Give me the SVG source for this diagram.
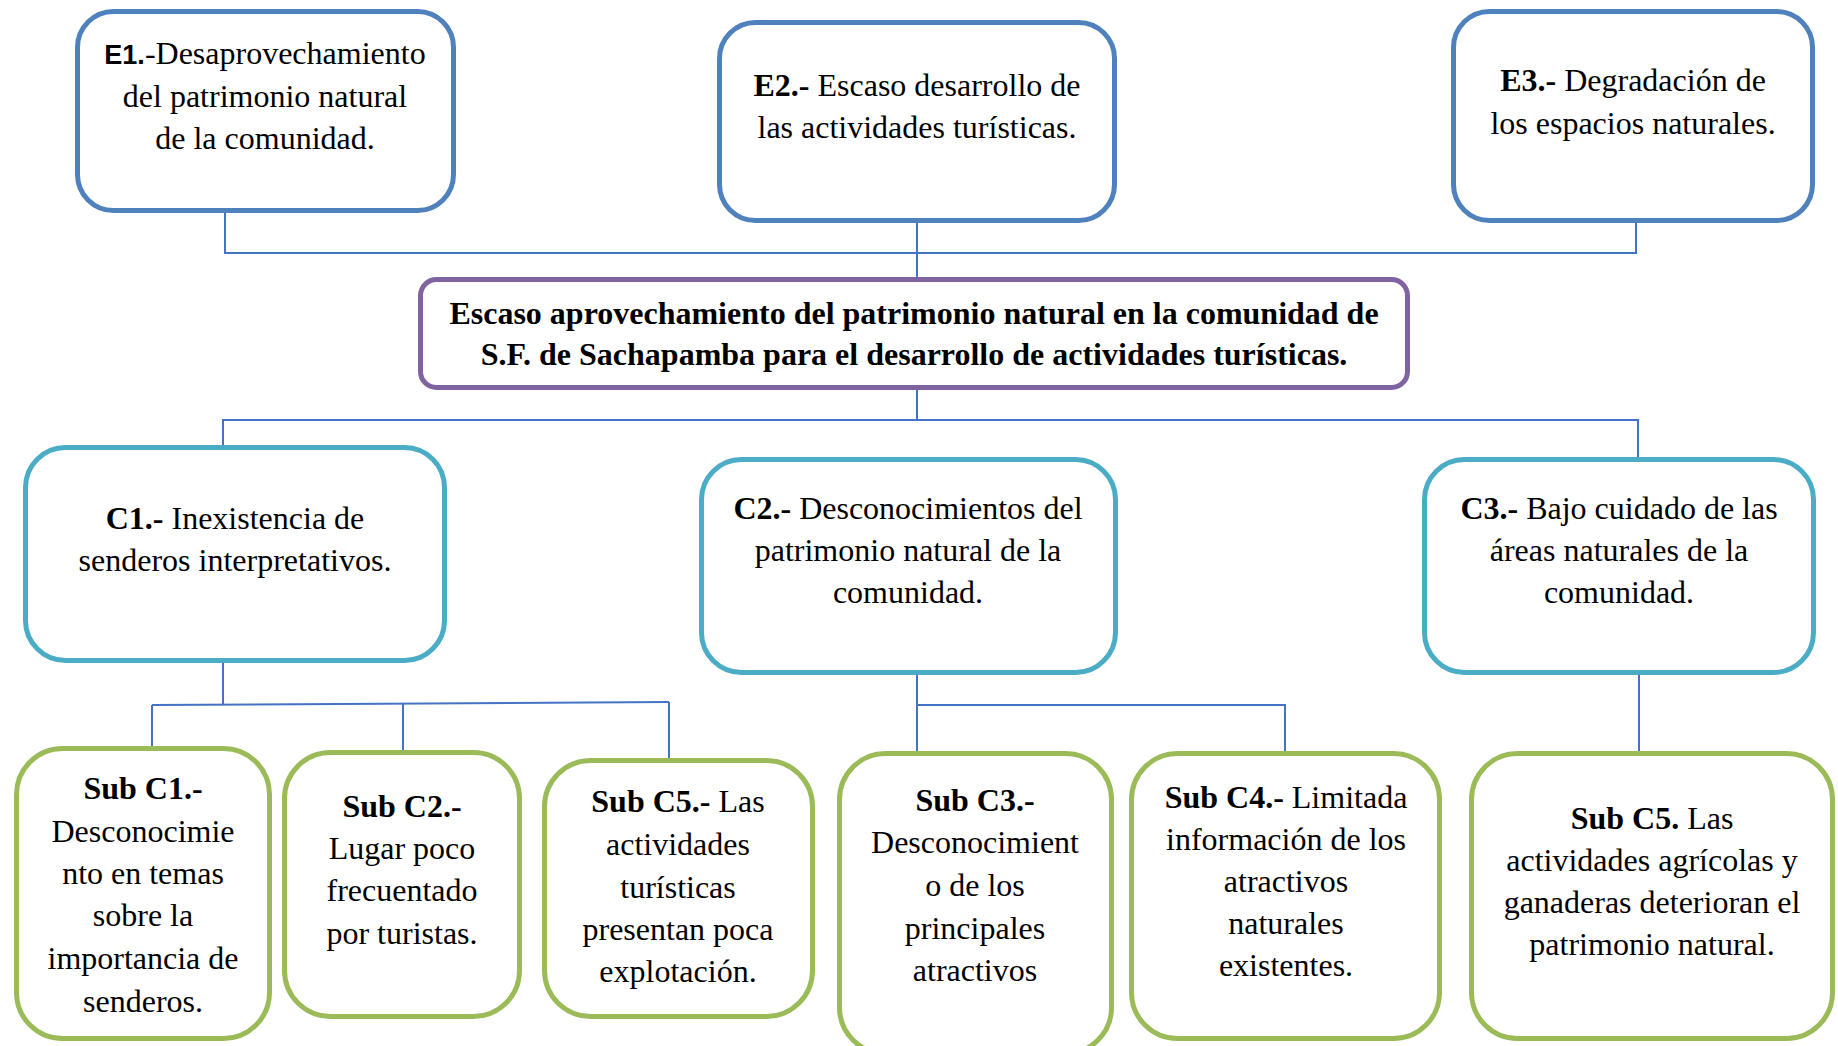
<svg xmlns="http://www.w3.org/2000/svg" width="1838" height="1046" viewBox="0 0 1838 1046">
<style>
.box{fill:#fff;stroke-width:5}
.e{stroke:#4F81BD}
.p{stroke:#8064A2}
.c{stroke:#4BACC6}
.s{stroke:#9BBB59}
.t{font-family:"Liberation Serif","Times New Roman",serif;font-size:32px;fill:#000;text-anchor:middle}
.b{font-weight:bold}
.sans{font-family:"Liberation Sans",Arial,sans-serif;font-size:27px;font-weight:bold}
.conn line{stroke:#4472C4;stroke-width:2;fill:none}
</style>
<rect width="1838" height="1046" fill="#fff"/>
<g class="conn" id="connectors">
<line x1="225" y1="213" x2="225" y2="253"/>
<line x1="224" y1="253" x2="1637" y2="253"/>
<line x1="917" y1="223" x2="917" y2="280"/>
<line x1="1636" y1="223" x2="1636" y2="253"/>
<line x1="917" y1="390" x2="917" y2="420"/>
<line x1="222" y1="420" x2="1639" y2="420"/>
<line x1="223" y1="420" x2="223" y2="457"/>
<line x1="1638" y1="420" x2="1638" y2="459"/>
<line x1="223" y1="663" x2="223" y2="705"/>
<line x1="152" y1="705" x2="669" y2="702"/>
<line x1="152" y1="705" x2="152" y2="750"/>
<line x1="403" y1="704" x2="403" y2="752"/>
<line x1="669" y1="702" x2="669" y2="758"/>
<line x1="917" y1="675" x2="917" y2="751"/>
<line x1="917" y1="705" x2="1286" y2="705"/>
<line x1="1285" y1="705" x2="1285" y2="751"/>
<line x1="1639" y1="675" x2="1639" y2="751"/>
</g>
<g id="E1">
<rect class="box e" x="77.5" y="11.5" width="376" height="199" rx="36"/>
<text class="t" x="265" y="64"><tspan class="sans">E1.</tspan>-Desaprovechamiento</text>
<text class="t" x="265" y="107">del patrimonio natural</text>
<text class="t" x="265" y="149">de la comunidad.</text>
</g>
<g id="E2">
<rect class="box e" x="719.5" y="22.5" width="395" height="198" rx="36"/>
<text class="t" x="917" y="96"><tspan class="b">E2.-</tspan> Escaso desarrollo de</text>
<text class="t" x="917" y="138">las actividades turísticas.</text>
</g>
<g id="E3">
<rect class="box e" x="1453.5" y="11.5" width="359" height="209" rx="36"/>
<text class="t" x="1633" y="91"><tspan class="b">E3.-</tspan> Degradación de</text>
<text class="t" x="1633" y="134">los espacios naturales.</text>
</g>
<g id="problema">
<rect class="box p" x="420.5" y="279.5" width="987" height="108" rx="16"/>
<text class="t b" x="914" y="324">Escaso aprovechamiento del patrimonio natural en la comunidad de</text>
<text class="t b" x="914" y="365">S.F. de Sachapamba para el desarrollo de actividades turísticas.</text>
</g>
<g id="C1">
<rect class="box c" x="25.5" y="447.5" width="419" height="213" rx="40"/>
<text class="t" x="235" y="529"><tspan class="b">C1.-</tspan> Inexistencia de</text>
<text class="t" x="235" y="571">senderos interpretativos.</text>
</g>
<g id="C2">
<rect class="box c" x="701.5" y="459.5" width="414" height="213" rx="40"/>
<text class="t" x="908" y="519"><tspan class="b">C2.-</tspan> Desconocimientos del</text>
<text class="t" x="908" y="561">patrimonio natural de la</text>
<text class="t" x="908" y="603">comunidad.</text>
</g>
<g id="C3">
<rect class="box c" x="1424.5" y="459.5" width="389" height="213" rx="40"/>
<text class="t" x="1619" y="519"><tspan class="b">C3.-</tspan> Bajo cuidado de las</text>
<text class="t" x="1619" y="561">áreas naturales de la</text>
<text class="t" x="1619" y="603">comunidad.</text>
</g>
<g id="SubC1">
<rect class="box s" x="16.5" y="748.5" width="253" height="290" rx="46"/>
<text class="t b" x="143" y="799">Sub C1.-</text>
<text class="t" x="143" y="842">Desconocimie</text>
<text class="t" x="143" y="884">nto en temas</text>
<text class="t" x="143" y="926">sobre la</text>
<text class="t" x="143" y="969">importancia de</text>
<text class="t" x="143" y="1012">senderos.</text>
</g>
<g id="SubC2">
<rect class="box s" x="284.5" y="752.5" width="235" height="264" rx="46"/>
<text class="t b" x="402" y="817">Sub C2.-</text>
<text class="t" x="402" y="859">Lugar poco</text>
<text class="t" x="402" y="901">frecuentado</text>
<text class="t" x="402" y="944">por turistas.</text>
</g>
<g id="SubC5a">
<rect class="box s" x="544.5" y="760.5" width="268" height="256" rx="46"/>
<text class="t" x="678" y="812"><tspan class="b">Sub C5.-</tspan> Las</text>
<text class="t" x="678" y="855">actividades</text>
<text class="t" x="678" y="898">turísticas</text>
<text class="t" x="678" y="940">presentan poca</text>
<text class="t" x="678" y="982">explotación.</text>
</g>
<g id="SubC3">
<rect class="box s" x="839.5" y="753.5" width="272" height="300" rx="46"/>
<text class="t b" x="975" y="811">Sub C3.-</text>
<text class="t" x="975" y="853">Desconocimient</text>
<text class="t" x="975" y="896">o de los</text>
<text class="t" x="975" y="939">principales</text>
<text class="t" x="975" y="981">atractivos</text>
</g>
<g id="SubC4">
<rect class="box s" x="1131.5" y="753.5" width="308" height="285" rx="46"/>
<text class="t" x="1286" y="808"><tspan class="b">Sub C4.-</tspan> Limitada</text>
<text class="t" x="1286" y="850">información de los</text>
<text class="t" x="1286" y="892">atractivos</text>
<text class="t" x="1286" y="934">naturales</text>
<text class="t" x="1286" y="976">existentes.</text>
</g>
<g id="SubC5b">
<rect class="box s" x="1471.5" y="753.5" width="361" height="285" rx="46"/>
<text class="t" x="1652" y="829"><tspan class="b">Sub C5.</tspan> Las</text>
<text class="t" x="1652" y="871">actividades agrícolas y</text>
<text class="t" x="1652" y="913">ganaderas deterioran el</text>
<text class="t" x="1652" y="955">patrimonio natural.</text>
</g>
</svg>
